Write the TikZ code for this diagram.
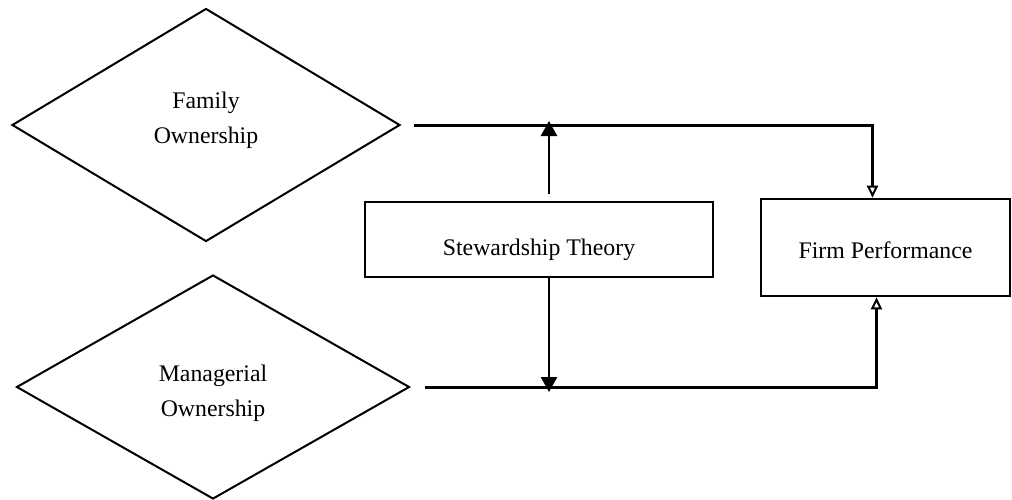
\documentclass[tikz,border=0pt]{standalone}
\usepackage{fontspec}
\setmainfont{Liberation Serif}
\usetikzlibrary{arrows.meta,shapes.geometric}
\tikzset{
  owner/.style={diamond,draw,line width=1pt,inner sep=0pt,minimum width=#1},
  ownertext/.style={inner sep=0pt,align=center,font=\fontsize{11.9}{17.5}\selectfont},
  box/.style={rectangle,draw,line width=1.3pt,inner sep=0pt,align=center,
              text depth=0pt,font=\fontsize{11.9}{14}\selectfont},
  ctrl/.style={-{Triangle[length=7.5pt,width=8pt]},line width=1.3pt},
  effect/.style={-{Triangle[open,length=6pt,width=5.5pt,line width=1pt]},line width=1.5pt},
}
\begin{document}
\begin{tikzpicture}[x=0.5pt,y=-0.5pt]
  \useasboundingbox (0,0) rectangle (1012,499);
  \node[owner=194pt,minimum height=116.5pt] (fam) at (206,125) {};
  \node[ownertext] (famtext) at ([yshift=2.6pt]fam.center) {Family\\Ownership};
  \node[owner=196.5pt,minimum height=112pt] (man) at (213,387) {};
  \node[ownertext] (mantext) at ([yshift=-3.1pt]man.center) {Managerial\\Ownership};
  \node[box,minimum width=174pt,minimum height=37.5pt,text height=16.4pt] (stew) at (539,239.5) {Stewardship Theory};
  \node[box,minimum width=124.5pt,minimum height=48.5pt,text height=11.4pt] (perf) at (885.5,247.5) {Firm Performance};
  % ownership to performance
  \coordinate (ft) at ([xshift=6.5pt]fam.east);
  \coordinate (mt) at ([xshift=7pt]man.east);
  \draw[effect] (ft) -| ([xshift=-6.5pt]perf.north);
  \draw[effect] (mt) -| ([xshift=-4.5pt]perf.south);
  % theory acts on both links
  \draw[ctrl] ([xshift=5pt,yshift=3.5pt]stew.north) -- ([xshift=5pt,yshift=2pt]stew.north |- ft);
  \draw[ctrl] ([xshift=5pt]stew.south) -- ([xshift=5pt,yshift=-2.5pt]stew.south |- mt);
\end{tikzpicture}
\end{document}
